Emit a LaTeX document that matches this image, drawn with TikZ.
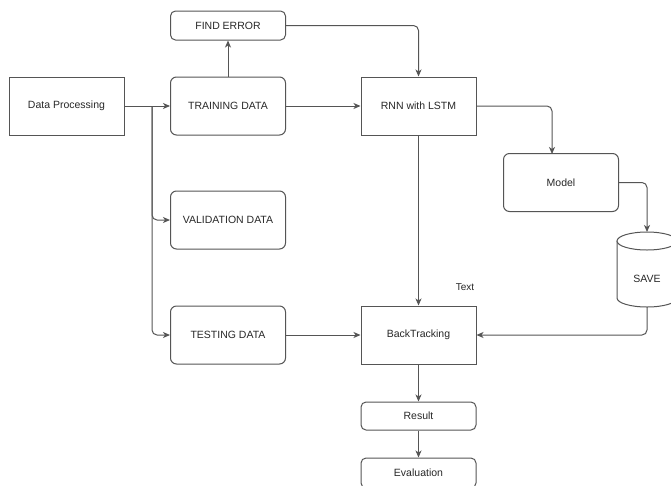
\documentclass[tikz,border=0pt]{standalone}
\usepackage{fontspec}
\setmainfont{Liberation Sans}
\usetikzlibrary{arrows.meta}
\definecolor{ln}{RGB}{85,85,85}
\definecolor{tx}{RGB}{40,40,40}
\begin{document}
\begin{tikzpicture}[x=1pt,y=-1pt,
  every node/.style={font=\fontsize{10.5}{12}\selectfont,text=tx},
  box/.style={draw=ln,line width=1pt,fill=white,minimum width=115pt,minimum height=58pt,inner sep=0pt},
  rbox/.style={box,rounded corners=6pt},
  sbox/.style={box,rounded corners=5pt,minimum height=29pt},
  conn/.style={draw=ln,line width=1pt,rounded corners=5pt,-{Stealth[length=7pt,width=6pt,inset=2pt]}}]
\clip (0,0) rectangle (671,485);
\useasboundingbox (0,0) rectangle (671,485);
\fill[white] (0,0) rectangle (671,485);
% nodes
\node[box] (dp) at (66.5,106) {Data Processing};
\node[rbox] (train) at (228,106) {TRAINING DATA};
\node[sbox] (find) at (228,25.5) {FIND ERROR};
\node[rbox] (val) at (228,220) {VALIDATION DATA};
\node[rbox] (test) at (228,335) {TESTING DATA};
\node[box] (rnn) at (418.5,106) {RNN with LSTM};
\node[rbox] (model) at (561,182.5) {Model};
\node[box] (bt) at (418.5,335) {BackTracking};
\node[sbox,minimum height=28pt] (res) at (418.5,416) {Result};
\node[sbox,minimum height=30pt] (eval) at (418.5,473) {Evaluation};
% cylinder SAVE
\draw[ln,line width=1pt,fill=white] (617,241) -- (617,298) arc[start angle=180,end angle=0,x radius=30,y radius=9] -- (677,241);
\draw[ln,line width=1pt,fill=white] (647,241) ellipse[x radius=30,y radius=9];
\node[inner sep=0pt] (save) at (647,279) {SAVE};
\coordinate (savetop) at (647,232);
\coordinate (savebot) at (647,307);
\node[inner sep=0pt,font=\fontsize{10}{12}\selectfont] (lbl) at (465,287) {Text};
% connectors
\coordinate (br) at (152,106);
\draw[conn] (dp.east) -- (train.west);
\draw[conn] (br) |- (val.west);
\draw[conn] (br) |- (test.west);
\draw[conn] (train.north) -- (find.south);
\draw[conn] (find.east) -| (rnn.north);
\draw[conn] (train.east) -- (rnn.west);
\draw[conn] (rnn.east) -| (552,154);
\draw[conn] (model.east) -| (savetop);
\draw[conn] (rnn.south) -- (bt.north);
\draw[conn] (test.east) -- (bt.west);
\draw[conn] (savebot) |- (bt.east);
\draw[conn] (bt.south) -- (res.north);
\draw[conn] (res.south) -- (eval.north);
\end{tikzpicture}
\end{document}
